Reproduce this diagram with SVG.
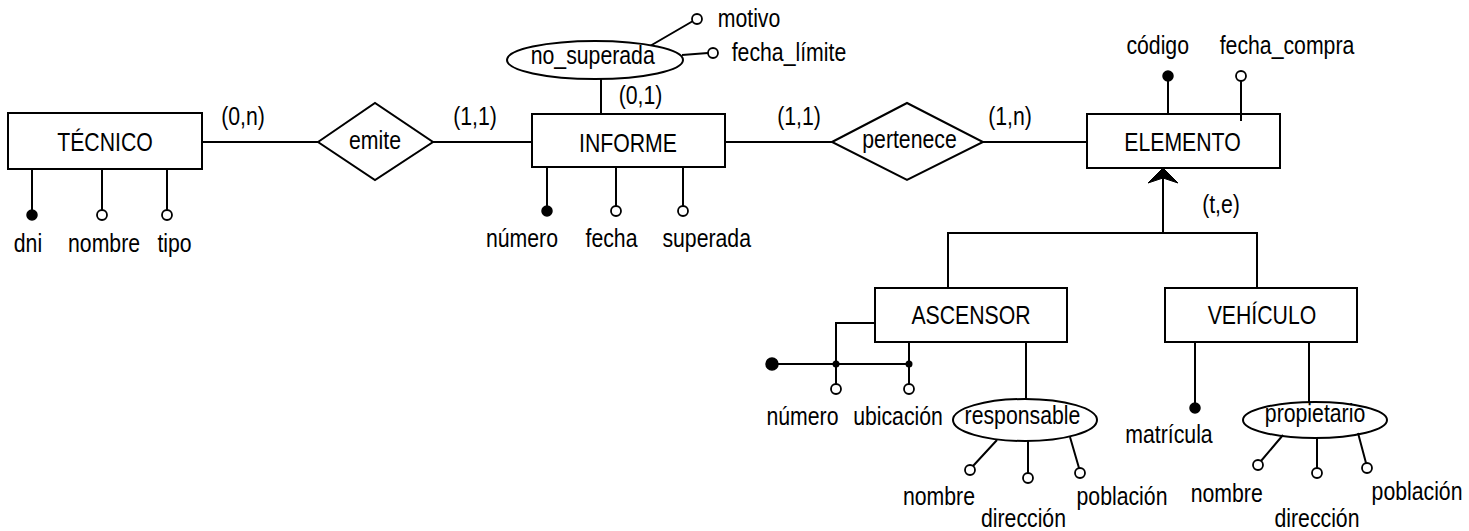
<svg xmlns="http://www.w3.org/2000/svg" width="1469" height="531" viewBox="0 0 1469 531">
  <style>
    .box { fill: #fff; stroke: #000; stroke-width: 2; }
    .ln { fill: none; stroke: #000; stroke-width: 2; }
    .key { fill: #000; stroke: #000; stroke-width: 1.5; }
    .att { fill: #fff; stroke: #000; stroke-width: 1.8; }
    .dot { fill: #000; }
    text { font-family: "Liberation Sans", Arial, sans-serif; font-size: 25px; fill: #000; text-anchor: middle; }
  </style>
  <rect width="1469" height="531" fill="#fff"/>

  <!-- connectors -->
  <g id="connectors">
    <path class="ln" d="M202 142 H318"/>
    <path class="ln" d="M433 142 H532"/>
    <path class="ln" d="M725 142 H832"/>
    <path class="ln" d="M983 142 H1087"/>
    <path class="ln" d="M601 79 V114"/>
    <!-- generalisation ELEMENTO -> ASCENSOR / VEHÍCULO -->
    <path class="ln" d="M1163 178 V233 M948 233 H1257 M948 232 V288 M1257 232 V288"/>
    <path d="M1163 168 L1178 183 L1163 178 L1148 183 Z" fill="#000" stroke="#000" stroke-width="1"/>
  </g>

  <!-- TÉCNICO -->
  <g id="tecnico">
    <rect class="box" x="8" y="113" width="194" height="56"/>
    <path class="ln" d="M32 169 V211 M102 169 V211 M167 169 V211"/>
    <circle class="key" cx="32" cy="215" r="5"/>
    <circle class="att" cx="102" cy="215" r="5"/>
    <circle class="att" cx="167" cy="215" r="5"/>
  </g>

  <!-- emite -->
  <g id="emite">
    <polygon class="box" points="318,142 375,103 433,142 375,180"/>
  </g>

  <!-- INFORME -->
  <g id="informe">
    <rect class="box" x="532" y="114" width="193" height="53"/>
    <path class="ln" d="M547 167 V206 M616 167 V206 M683 167 V206"/>
    <circle class="key" cx="547" cy="211" r="5"/>
    <circle class="att" cx="616" cy="211" r="5"/>
    <circle class="att" cx="683" cy="211" r="5"/>
  </g>

  <!-- no_superada -->
  <g id="no_superada">
    <path class="ln" d="M650 46 L693 21 M682 55 L708 53"/>
    <ellipse class="box" cx="595" cy="60" rx="88" ry="19"/>
    <circle class="att" cx="697" cy="19" r="5"/>
    <circle class="att" cx="713" cy="53" r="5"/>
  </g>

  <!-- pertenece -->
  <g id="pertenece">
    <polygon class="box" points="832,142 907,103 983,142 907,180"/>
  </g>

  <!-- ELEMENTO -->
  <g id="elemento">
    <path class="ln" d="M1168 80 V114 M1241 81 V121"/>
    <rect class="box" x="1087" y="114" width="193" height="54" fill-opacity="0"/>
    <circle class="key" cx="1168" cy="76" r="5"/>
    <circle class="att" cx="1241" cy="76" r="5"/>
  </g>

  <!-- ASCENSOR -->
  <g id="ascensor">
    <rect class="box" x="875" y="288" width="192" height="54"/>
    <path class="ln" d="M875 323 H836 V364 M772 364 H909 M909 342 V364 M836 364 V384 M909 364 V384"/>
    <circle class="key" cx="772" cy="364" r="6"/>
    <circle class="dot" cx="836" cy="364" r="3.5"/>
    <circle class="dot" cx="909" cy="364" r="3.5"/>
    <circle class="att" cx="836" cy="389" r="5"/>
    <circle class="att" cx="909" cy="389" r="5"/>
    <path class="ln" d="M1026 342 V399"/>
  </g>

  <!-- responsable -->
  <g id="responsable">
    <ellipse class="box" cx="1025" cy="420" rx="72" ry="21"/>
    <path class="ln" d="M997 440 L973 466 M1028 441 V473 M1070 437 L1079 468"/>
    <circle class="att" cx="970" cy="470" r="5"/>
    <circle class="att" cx="1028" cy="478" r="5"/>
    <circle class="att" cx="1080" cy="473" r="5"/>
  </g>

  <!-- VEHÍCULO -->
  <g id="vehiculo">
    <rect class="box" x="1165" y="288" width="192" height="54"/>
    <path class="ln" d="M1195 342 V403 M1309 342 V402"/>
    <circle class="key" cx="1195" cy="408" r="5"/>
  </g>

  <!-- propietario -->
  <g id="propietario">
    <ellipse class="box" cx="1315" cy="420" rx="72" ry="18"/>
    <path class="ln" d="M1283 435 L1261 461 M1317 438 V468 M1358 433 L1366 463"/>
    <circle class="att" cx="1258" cy="465" r="5"/>
    <circle class="att" cx="1317" cy="473" r="5"/>
    <circle class="att" cx="1367" cy="468" r="5"/>
  </g>

  <!-- labels (horizontally condensed) -->
  <g id="labels" transform="scale(0.85 1)">
    <text x="123.5" y="151">TÉCNICO</text>
    <text x="285.9" y="125">(0,n)</text>
    <text x="441.2" y="149">emite</text>
    <text x="32.9" y="252">dni</text>
    <text x="122.4" y="252">nombre</text>
    <text x="205.3" y="252">tipo</text>
    <text x="558.8" y="125">(1,1)</text>
    <text x="738.8" y="152">INFORME</text>
    <text x="697.3" y="64">no_superada</text>
    <text x="881.2" y="27">motivo</text>
    <text x="928.2" y="61">fecha_límite</text>
    <text x="753.5" y="104">(0,1)</text>
    <text x="614.1" y="247">número</text>
    <text x="719.4" y="247">fecha</text>
    <text x="831.4" y="247">superada</text>
    <text x="940" y="125">(1,1)</text>
    <text x="1070" y="148">pertenece</text>
    <text x="1188.2" y="125">(1,n)</text>
    <text x="1391.2" y="151">ELEMENTO</text>
    <text x="1362" y="54">código</text>
    <text x="1514.1" y="54">fecha_compra</text>
    <text x="1436.5" y="213">(t,e)</text>
    <text x="1142.4" y="324">ASCENSOR</text>
    <text x="1484.7" y="324">VEHÍCULO</text>
    <text x="944.1" y="425">número</text>
    <text x="1056.5" y="425">ubicación</text>
    <text x="1202.9" y="424">responsable</text>
    <text x="1104.7" y="505">nombre</text>
    <text x="1204.1" y="527">dirección</text>
    <text x="1320" y="505">población</text>
    <text x="1375.3" y="443">matrícula</text>
    <text x="1547.1" y="422">propietario</text>
    <text x="1443.2" y="502">nombre</text>
    <text x="1549.4" y="527">dirección</text>
    <text x="1667.1" y="500">población</text>
  </g>
</svg>
